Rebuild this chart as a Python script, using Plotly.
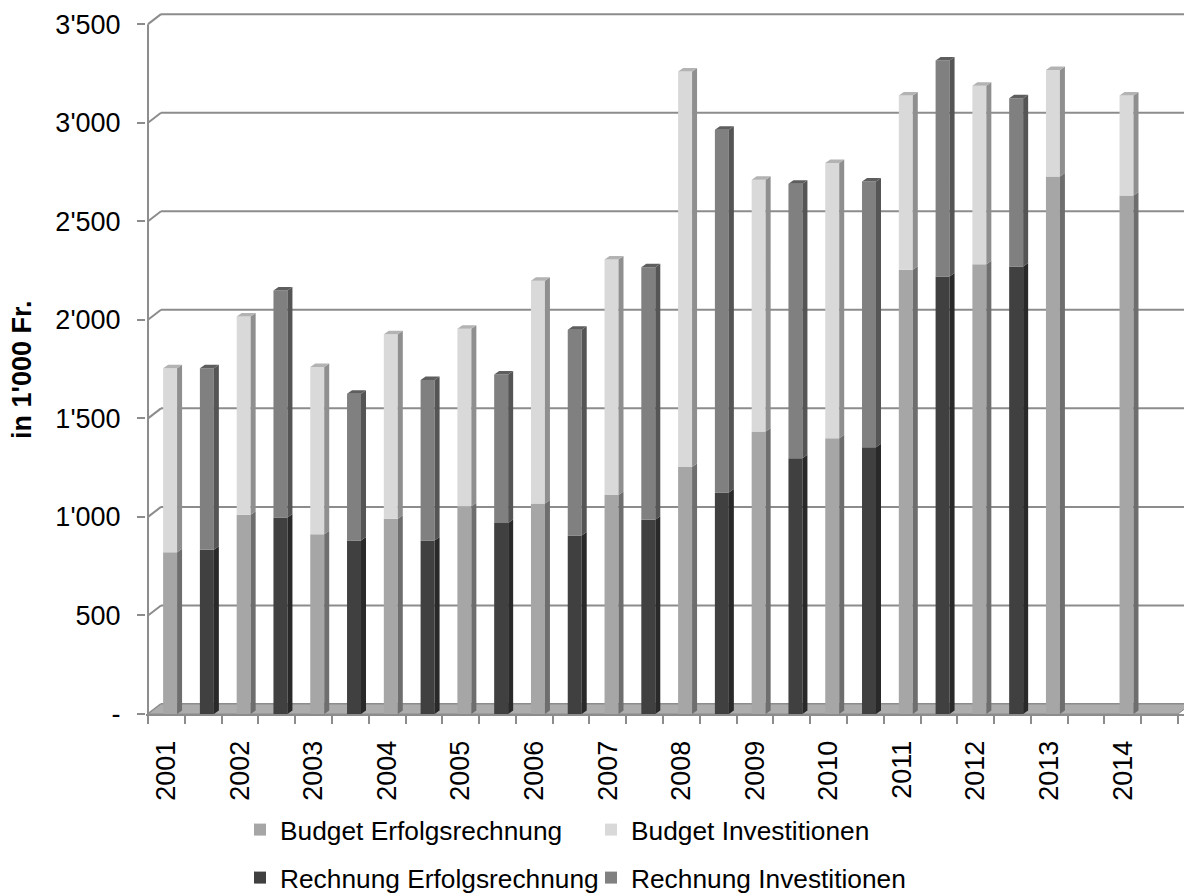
import plotly.graph_objects as go

# ---------------- data ----------------
years = ["2001", "2002", "2003", "2004", "2005", "2006", "2007",
         "2008", "2009", "2010", "2011", "2012", "2013", "2014"]
budget_erfolg = [821, 1011, 912, 990, 1054, 1068, 1111, 1253, 1433, 1399, 2254, 2282, 2727, 2631]
budget_invest = [933, 1006, 848, 937, 901, 1130, 1195, 2007, 1277, 1396, 884, 905, 541, 507]
rechnung_erfolg = [833, 997, 880, 880, 969, 905, 985, 1124, 1298, 1354, 2220, 2270, None, None]
rechnung_invest = [921, 1152, 745, 814, 753, 1045, 1281, 1840, 1392, 1348, 1096, 854, None, None]

y_tick_values = [0, 500, 1000, 1500, 2000, 2500, 3000, 3500]
y_tick_text = ["-", "500", "1'000", "1'500", "2'000", "2'500", "3'000", "3'500"]

# ---------------- geometry / style ----------------
FONT = "Liberation Sans, Arial, sans-serif"
FS = 27
FS_LEG = 26.3
GRID = "#8C8C8C"
W, H = 1184, 896
M_L, M_R, M_T, M_B = 146, 0, 11, 182
N_SLOTS = 2 * len(years)
X_MIN, X_MAX = -0.555, N_SLOTS - 0.5 + 0.163
PX_X = (W - M_L - M_R) / (X_MAX - X_MIN)
PX_Y = 0.1971
Y_MAX = (H - M_T - M_B) / PX_Y


def xu(px):
    return px / PX_X


def yu(px):
    return px / PX_Y


FACE_OFF, FACE_W = 0.10, 0.38
DX, DY = xu(5), yu(3.5)
WALL_DX, WALL_DY = xu(13), yu(10)

series = [
    dict(name="Budget Erfolgsrechnung", parity=0, vals=budget_erfolg, base=None,
         color="#A6A6A6", side="#6E6E6E", cap=None, legend="legend"),
    dict(name="Budget Investitionen", parity=0, vals=budget_invest, base=budget_erfolg,
         color="#D9D9D9", side="#8F8F8F", cap="#B3B3B3", legend="legend"),
    dict(name="Rechnung Erfolgsrechnung", parity=1, vals=rechnung_erfolg, base=None,
         color="#404040", side="#292929", cap=None, legend="legend2"),
    dict(name="Rechnung Investitionen", parity=1, vals=rechnung_invest, base=rechnung_erfolg,
         color="#808080", side="#555555", cap="#5E5E5E", legend="legend2"),
]

fig = go.Figure()

for s in series:
    xs, ys, bs = [], [], []
    for i, v in enumerate(s["vals"]):
        if v is None:
            continue
        xs.append(2 * i + s["parity"] + FACE_OFF)
        ys.append(v)
        bs.append(0 if s["base"] is None else s["base"][i])
    fig.add_trace(go.Bar(
        x=xs, y=ys, base=bs, width=FACE_W, name=s["name"],
        marker=dict(color=s["color"], line=dict(width=0)),
        legend=s["legend"], hoverinfo="name+y",
    ))
    # side faces
    px, py = [], []
    for x, v, b in zip(xs, ys, bs):
        xr = x + FACE_W / 2
        px += [xr, xr + DX, xr + DX, xr, xr, None]
        py += [b, b + DY, b + v + DY, b + v, b, None]
    fig.add_trace(go.Scatter(x=px, y=py, mode="lines", fill="toself",
                             fillcolor=s["side"], line=dict(width=0),
                             hoverinfo="skip", showlegend=False))
    # top caps
    if s["cap"]:
        cx, cy = [], []
        for x, v, b in zip(xs, ys, bs):
            xl, xr, t = x - FACE_W / 2, x + FACE_W / 2, b + v
            cx += [xl, xl + DX, xr + DX, xr, xl, None]
            cy += [t, t + DY, t + DY, t, t, None]
        fig.add_trace(go.Scatter(x=cx, y=cy, mode="lines", fill="toself",
                                 fillcolor=s["cap"], line=dict(width=0),
                                 hoverinfo="skip", showlegend=False))

# ---------------- walls, floor, gridlines ----------------
shapes = []
x_left, x_right = -0.5, N_SLOTS - 0.5
for v in y_tick_values:
    shapes.append(dict(type="line", xref="x", yref="y", layer="below",
                       x0=x_left + WALL_DX, x1=x_right + 2, y0=v + WALL_DY, y1=v + WALL_DY,
                       line=dict(color=GRID, width=2)))
    shapes.append(dict(type="line", xref="x", yref="y", layer="below",
                       x0=x_left, x1=x_left + WALL_DX, y0=v, y1=v + WALL_DY,
                       line=dict(color=GRID, width=2)))
shapes.append(dict(type="path", xref="x", yref="y", layer="below",
                   path=f"M{x_left},0 L{x_right},0 L{x_right + WALL_DX},{WALL_DY} "
                        f"L{x_left + WALL_DX},{WALL_DY} Z",
                   fillcolor="#ADADAD", line=dict(color=GRID, width=1)))
shapes.append(dict(type="line", xref="x", yref="y", layer="above",
                   x0=x_left, x1=x_left, y0=0, y1=y_tick_values[-1],
                   line=dict(color=GRID, width=2)))

legend_common = dict(orientation="h", xref="container", yref="container",
                     xanchor="left", yanchor="middle", entrywidth=306,
                     entrywidthmode="pixels", font=dict(size=FS_LEG),
                     bgcolor="rgba(0,0,0,0)", traceorder="normal")

fig.update_layout(
    width=W, height=H,
    margin=dict(l=M_L, r=M_R, t=M_T, b=M_B),
    paper_bgcolor="white", plot_bgcolor="white",
    barmode="overlay",
    font=dict(family=FONT, size=FS, color="black"),
    shapes=shapes,
    xaxis=dict(
        range=[X_MIN, X_MAX], showgrid=False, zeroline=False,
        tickmode="array", tickvals=[2 * i for i in range(len(years))], ticktext=years,
        tickangle=-90, ticks="", ticklabelstandoff=14,
        showline=True, linecolor=GRID, linewidth=2,
        minor=dict(tickmode="array", tickvals=[k - 0.5 for k in range(N_SLOTS + 1)],
                   ticks="outside", ticklen=8, tickcolor=GRID, tickwidth=2, showgrid=False),
        tickfont=dict(size=FS),
    ),
    yaxis=dict(
        range=[0, Y_MAX], showgrid=False, zeroline=False, showline=False,
        tickmode="array", tickvals=y_tick_values, ticktext=y_tick_text,
        ticks="outside", ticklen=8, tickcolor=GRID, tickwidth=2,
        ticklabelstandoff=11, tickfont=dict(size=FS),
    ),
    annotations=[dict(text="<b>in 1'000 Fr.</b>", xref="paper", yref="paper",
                      x=(22 - M_L) / (W - M_L - M_R), y=(H - M_B - 370) / (H - M_T - M_B),
                      xanchor="center", yanchor="middle", textangle=-90,
                      showarrow=False, font=dict(size=FS))],
    legend=dict(x=240 / W, y=1 - 830 / H, **legend_common),
    legend2=dict(x=240 / W, y=1 - 878 / H, **legend_common),
    showlegend=True,
)

fig.write_html("out.html")
